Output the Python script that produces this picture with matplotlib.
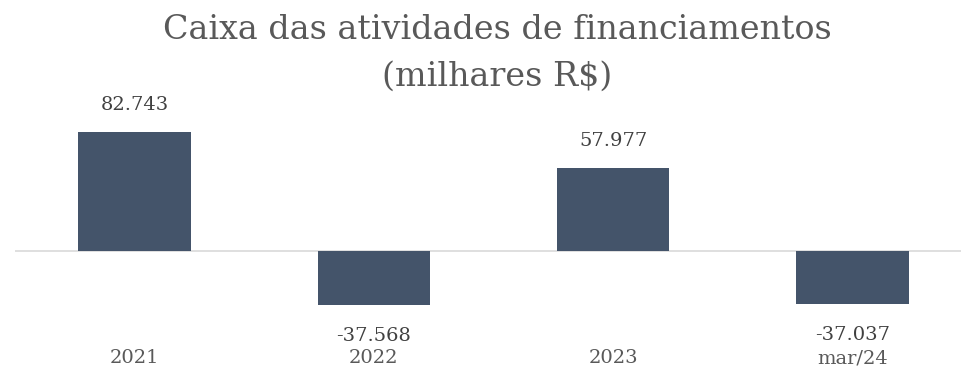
import matplotlib.pyplot as plt
import matplotlib.transforms as mtransforms

# cash from financing activities, thousands of R$
periods = ["2021", "2022", "2023", "mar/24"]
values = [82.743, -37.568, 57.977, -37.037]
value_labels = ["82.743", "-37.568", "57.977", "-37.037"]

bar_color = "#44546A"
text_color = "#404040"

plt.rcParams["font.family"] = ["DejaVu Serif"]

fig = plt.figure(figsize=(9.61, 3.68), dpi=100)
ax = fig.add_axes([15 / 961, 0, 957 / 961, 1])
ax.set_xlim(-0.5, 3.5)
ax.set_ylim(-81.25, 174.3)
ax.axis("off")

x = range(len(periods))
ax.bar(x, values, width=0.47, color=bar_color, zorder=2)
ax.axhline(0, color="#D9D9D9", lw=1.2, zorder=1)

# value labels above positive bars, below negative ones
for i, v in enumerate(values):
    off = 27 if v > 0 else -31
    ax.annotate(value_labels[i], (i, v), xytext=(0, off), textcoords="offset pixels",
                ha="center", va="center", fontsize=14, color=text_color)

# category labels along the bottom edge
trans = mtransforms.blended_transform_factory(ax.transData, ax.transAxes)
for i, p in enumerate(periods):
    ax.text(i, 0.027, p, transform=trans, ha="center", va="center",
            fontsize=14, color="#595959")

fig.text(497 / 961, 1 - 30 / 368, "Caixa das atividades de financiamentos",
         ha="center", va="center", fontsize=24, color="#595959")
fig.text(497 / 961, 1 - 77 / 368, "(milhares R$)",
         ha="center", va="center", fontsize=24, color="#595959")

fig.savefig("out.png", dpi=100)
